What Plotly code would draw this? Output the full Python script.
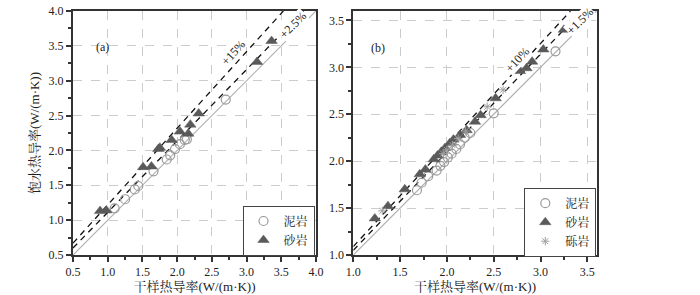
import plotly.graph_objects as go

# ---------------- data ----------------
# Panel (a)
a_mud_x = [1.10, 1.25, 1.39, 1.44, 1.66, 1.85, 1.90, 1.97, 2.04, 2.11, 2.14, 2.70]
a_mud_y = [1.17, 1.30, 1.44, 1.49, 1.70, 1.87, 1.93, 2.02, 2.09, 2.15, 2.16, 2.73]
a_sand_x = [0.89, 0.98, 1.51, 1.63, 1.73, 1.75, 1.92, 2.04, 2.16, 2.19, 2.31, 3.15, 3.36]
a_sand_y = [1.13, 1.14, 1.76, 1.77, 2.02, 2.04, 2.15, 2.27, 2.24, 2.37, 2.53, 3.27, 3.57]

# Panel (b)
b_mud_x = [1.68, 1.73, 1.80, 1.89, 1.93, 1.97, 2.01, 2.05, 2.10, 2.14, 2.19, 2.25, 2.50, 3.16]
b_mud_y = [1.69, 1.77, 1.84, 1.90, 1.95, 1.99, 2.04, 2.08, 2.13, 2.18, 2.25, 2.30, 2.51, 3.17]
b_sand_x = [1.23, 1.37, 1.55, 1.71, 1.77, 1.86, 1.90, 1.94, 1.98, 2.03, 2.07, 2.14, 2.21,
            2.30, 2.36, 2.52, 2.78, 2.85, 2.91, 3.03, 3.25]
b_sand_y = [1.39, 1.52, 1.70, 1.86, 1.91, 2.02, 2.06, 2.10, 2.14, 2.19, 2.23, 2.28, 2.33,
            2.42, 2.49, 2.67, 2.96, 2.99, 3.06, 3.19, 3.40]
b_grav_x = [1.31, 1.96, 2.00, 2.06, 2.12, 2.20, 2.43, 2.60]
b_grav_y = [1.47, 2.08, 2.12, 2.17, 2.24, 2.32, 2.58, 2.76]

# reference lines: (x0, y0, x1, y1)
a_lines = {"1:1": (0.5, 0.5, 4.0, 4.0), "upper": (0.5, 0.67, 3.53, 4.0), "mid": (0.5, 0.60, 3.82, 4.0)}
b_lines = {"1:1": (1.0, 1.0, 3.6, 3.6), "upper": (1.0, 1.09, 3.32, 3.6), "mid": (1.0, 1.05, 3.44, 3.6)}

# ---------------- figure ----------------
W, H = 700, 295
fig = go.Figure()

FONT = "Liberation Serif, Times New Roman, Noto Serif CJK SC, Noto Sans CJK SC, serif"
mud_marker = dict(symbol="circle-open", size=9, color="#9a9a9a", line=dict(width=1.2, color="#9a9a9a"))
sand_marker = dict(symbol="triangle-up", size=10, color="#5a5a5a", line=dict(width=0.5, color="#5a5a5a"))
grav_marker = dict(symbol="asterisk-open", size=7, color="#a0a0a0", line=dict(width=1, color="#a0a0a0"))


def add_lines(lines, xa, ya):
    for k, (x0, y0, x1, y1) in lines.items():
        if k == "1:1":
            ln = dict(color="#b0b0b0", width=1.2)
        else:
            ln = dict(color="#111111", width=1.3, dash="6px,5px")
        fig.add_trace(go.Scatter(x=[x0, x1], y=[y0, y1], mode="lines", line=ln,
                                 showlegend=False, hoverinfo="skip", xaxis=xa, yaxis=ya))


add_lines(a_lines, "x", "y")
add_lines(b_lines, "x2", "y2")

fig.add_trace(go.Scatter(x=a_mud_x, y=a_mud_y, mode="markers", marker=mud_marker, name="泥岩",
                         xaxis="x", yaxis="y", legend="legend"))
fig.add_trace(go.Scatter(x=a_sand_x, y=a_sand_y, mode="markers", marker=sand_marker, name="砂岩",
                         xaxis="x", yaxis="y", legend="legend"))

fig.add_trace(go.Scatter(x=b_mud_x, y=b_mud_y, mode="markers", marker=mud_marker, name="泥岩",
                         xaxis="x2", yaxis="y2", legend="legend2"))
fig.add_trace(go.Scatter(x=b_sand_x, y=b_sand_y, mode="markers", marker=sand_marker, name="砂岩",
                         xaxis="x2", yaxis="y2", legend="legend2"))
fig.add_trace(go.Scatter(x=b_grav_x, y=b_grav_y, mode="markers", marker=grav_marker, name="砾岩",
                         xaxis="x2", yaxis="y2", legend="legend2"))


def px_x(p):
    return p / W


def px_y(p):
    return 1 - p / H


axis_common = dict(
    automargin=False,
    showline=True, linecolor="#333333", linewidth=2, mirror=True,
    ticks="outside", ticklen=5, tickwidth=1.5, tickcolor="#333333",
    showgrid=True, gridcolor="#cccccc", griddash="dash", gridwidth=1,
    zeroline=False, dtick=0.5, tickformat=".1f",
    tickfont=dict(family=FONT, size=12, color="#222222"),
    minor=dict(ticks="outside", ticklen=3, tickcolor="#333333", dtick=0.25, showgrid=False),
)

fig.update_layout(
    template="none",
    width=W, height=H, margin=dict(l=0, r=0, t=0, b=0, autoexpand=False),
    paper_bgcolor="white", plot_bgcolor="white",
    font=dict(family=FONT, size=12, color="#222222"),
    xaxis=dict(domain=[px_x(73), px_x(316)], range=[0.5, 4.0], anchor="y",
               title=dict(text="干样热导率(W/(m·K))", font=dict(size=13), standoff=2), **axis_common),
    yaxis=dict(domain=[px_y(255), px_y(11)], range=[0.5, 4.0], anchor="x",
               title=dict(text="饱水热导率(W/(m·K))", font=dict(size=13), standoff=6), **axis_common),
    xaxis2=dict(domain=[px_x(353.3), px_x(596.7)], range=[1.0, 3.6], anchor="y2",
                title=dict(text="干样热导率(W/(m·K))", font=dict(size=13), standoff=2), **axis_common),
    yaxis2=dict(domain=[px_y(255), px_y(11)], range=[1.0, 3.6], anchor="x2", **axis_common),
    legend=dict(x=px_x(242.5), y=px_y(205.5), xanchor="left", yanchor="top",
                bordercolor="#444444", borderwidth=1, bgcolor="white",
                font=dict(size=12), itemwidth=30, tracegroupgap=2),
    legend2=dict(x=px_x(524.3), y=px_y(187.7), xanchor="left", yanchor="top",
                 bordercolor="#444444", borderwidth=1, bgcolor="white",
                 font=dict(size=12), itemwidth=30, tracegroupgap=2),
    showlegend=True,
)

annots = [
    dict(text="(a)", x=px_x(103), y=px_y(47), textangle=0),
    dict(text="(b)", x=px_x(378), y=px_y(48), textangle=0),
    dict(text="+15%", x=px_x(233), y=px_y(53), textangle=-48),
    dict(text="+2.5%", x=px_x(293), y=px_y(25), textangle=-45, bgcolor="white"),
    dict(text="+10%", x=px_x(517), y=px_y(60), textangle=-47, bgcolor="white"),
    dict(text="+1.5%", x=px_x(580), y=px_y(21), textangle=-45, bgcolor="white"),
]
for a in annots:
    fig.add_annotation(xref="paper", yref="paper", showarrow=False,
                       xanchor="center", yanchor="middle", borderpad=0,
                       font=dict(family=FONT, size=12, color="#222222"), **a)

fig.write_html("out.html", config={"displayModeBar": False},
               post_script="document.body.style.margin='0';document.body.style.padding='0';")
